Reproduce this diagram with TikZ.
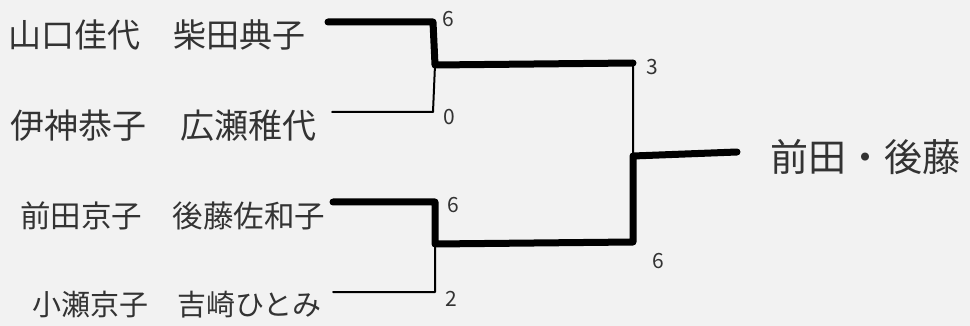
\documentclass[tikz,border=0pt]{standalone}
\usepackage{fontspec}
\newfontfamily\cjk{Noto Sans CJK JP}
\usetikzlibrary{calc}
\begin{document}
\begin{tikzpicture}[x=1pt,y=-1pt,line join=round,line cap=round,font=\cjk,
    win/.style={line width=7pt},
    lose/.style={line width=2pt},
    pair/.style={anchor=west,inner sep=0pt,text=black!80,font=\cjk\fontsize{#1}{#1}\selectfont},
    score/.style={inner sep=0pt,text=black!80,font=\cjk\fontsize{21}{21}\selectfont}]
    \fill[black!5] (0,0) rectangle (970,326);
    \useasboundingbox (0,0) rectangle (970,326);
    % pairs
    \node[pair=33] (P1) at (8,35) {山口佳代　柴田典子};
    \node[pair=34] (P2) at (10,126) {伊神恭子　広瀬稚代};
    \node[pair=30.5] (P3) at (20,216) {前田京子　後藤佐和子};
    \node[pair=29] (P4) at (32,305) {小瀬京子　吉崎ひとみ};
    \node[pair=38] (W) at (770,157) {前田・後藤};
    % bracket points
    \coordinate (E1) at (328,22); \coordinate (C1) at (433,22);
    \coordinate (E2) at (332,112); \coordinate (C2) at (433,112);
    \coordinate (E3) at (333,202); \coordinate (C3) at (435,202);
    \coordinate (E4) at (333,292); \coordinate (C4) at (435,292);
    \coordinate (J1) at (435,65); \coordinate (S1) at (633,63);
    \coordinate (J2) at (435,244); \coordinate (S2) at (633,242);
    \coordinate (F) at (633,156); \coordinate (R) at (737,152);
    \draw[lose] (E2)--(C2)--(J1) (E4)--(C4)--(J2) (S1)--(F);
    \draw[win] (E1)--(C1)--(J1)--(S1) (E3)--(C3)--(J2)--(S2)--(F)--(R);
    % scores
    \foreach \diem/\dx/\dy/\so in {C1/15/-3/6,C2/16/5/0,C3/18/3/6,C4/16/7/2,S1/19/4/3,S2/25/19/6}
        \node[score] at ($(\diem)+(\dx,\dy)$) {\so};
\end{tikzpicture}
\end{document}
